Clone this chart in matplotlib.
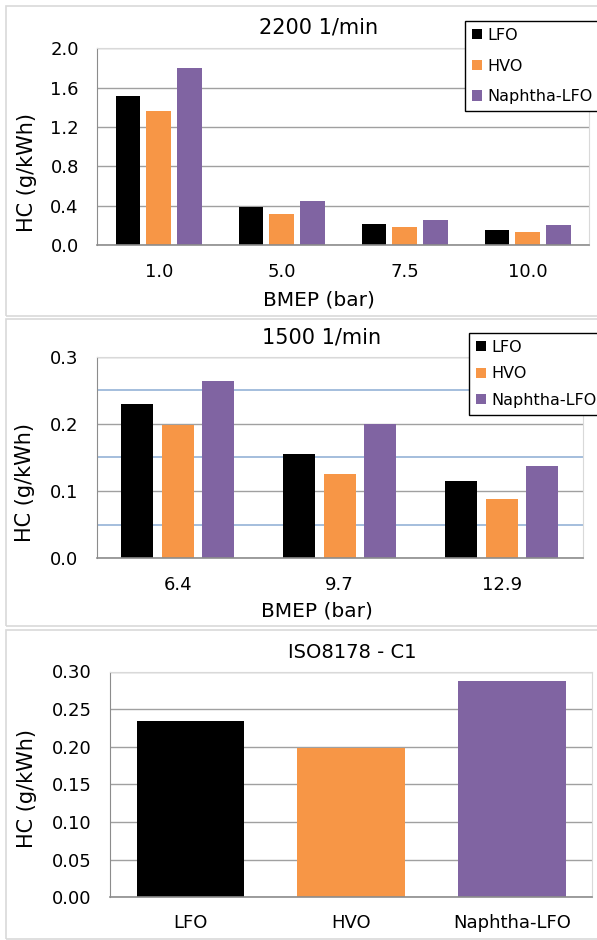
import matplotlib
matplotlib.use("Agg")
import matplotlib.pyplot as plt
from matplotlib.patches import Patch, Rectangle
import numpy as np

# ---------------- data ----------------
fuels = ["LFO", "HVO", "Naphtha-LFO"]
colors = ["#000000", "#F79646", "#8064A2"]

bmep_2200 = ["1.0", "5.0", "7.5", "10.0"]
lfo_2200 = [1.515, 0.383, 0.21, 0.149]
hvo_2200 = [1.362, 0.319, 0.183, 0.136]
nap_2200 = [1.80, 0.451, 0.254, 0.200]

bmep_1500 = ["6.4", "9.7", "12.9"]
lfo_1500 = [0.230, 0.155, 0.115]
hvo_1500 = [0.198, 0.126, 0.088]
nap_1500 = [0.264, 0.200, 0.137]

iso_values = [0.234, 0.198, 0.287]

yt_2200 = [0.0, 0.4, 0.8, 1.2, 1.6, 2.0]
yt_1500 = [0.0, 0.1, 0.2, 0.3]
yt_1500_minor = [0.05, 0.15, 0.25]
yt_iso = [0.00, 0.05, 0.10, 0.15, 0.20, 0.25, 0.30]

# ---------------- figure ----------------
W, H = 597, 940
fig = plt.figure(figsize=(W / 100, H / 100), dpi=100)
plt.rcParams["font.family"] = ["DejaVu Sans"]

def fx(px):
    return px / W

def fy(py):
    return 1 - py / H

def axes_px(l, t, r, b):
    return fig.add_axes([fx(l), fy(b), (r - l) / W, (b - t) / H])

# panel frames
for (t, b) in [(6, 316), (319, 626), (630, 939)]:
    fig.patches.append(Rectangle((fx(6), fy(b)), fx(700), (b - t) / H,
                                 transform=fig.transFigure, fill=False,
                                 edgecolor="#D9D9D9", linewidth=1.2, zorder=0))

TICK = 13
LAB = 15
TIT = 15
LEG = 11.5
GRID = "#A0A0A0"
SPINE = "#8C8C8C"
LIGHT = "#D9D9D9"

def style(ax):
    ax.set_axisbelow(True)
    ax.yaxis.grid(True, color=GRID, linewidth=1.0)
    ax.tick_params(length=0, labelsize=TICK)
    ax.tick_params(axis="y", pad=13.3)
    ax.tick_params(axis="x", pad=12.7)
    ax.spines["left"].set_color(SPINE)
    ax.spines["bottom"].set_color(SPINE)
    ax.spines["bottom"].set_linewidth(1.2)
    ax.spines["top"].set_color(LIGHT)
    ax.spines["right"].set_color(LIGHT)

def grouped(ax, cats, series):
    x = np.arange(len(cats))
    for i, (vals, c) in enumerate(zip(series, colors)):
        ax.bar(x + (i - 1) * 0.25, vals, width=0.2, color=c, edgecolor="none", zorder=2)
    ax.set_xticks(x)
    ax.set_xticklabels(cats)
    ax.set_xlim(-0.5, len(cats) - 0.5)

def legend(x, y, spacing):
    handles = [Patch(facecolor=c, edgecolor="none") for c in colors]
    lg = fig.legend(handles, fuels, loc="upper left",
                    bbox_to_anchor=(fx(x), fy(y)), bbox_transform=fig.transFigure,
                    borderaxespad=0, fontsize=LEG, frameon=True, fancybox=False,
                    edgecolor="black", framealpha=1, handlelength=0.6,
                    handleheight=0.6, handletextpad=0.35, labelspacing=spacing,
                    borderpad=0.45)
    lg.get_frame().set_linewidth(1.0)
    return lg

# ---------- panel 1 ----------
ax1 = axes_px(97.3, 48.3, 589, 245)
style(ax1)
grouped(ax1, bmep_2200, [lfo_2200, hvo_2200, nap_2200])
ax1.set_ylim(0, 2.0)
ax1.set_yticks(yt_2200)
ax1.set_yticklabels([f"{v:.1f}" for v in yt_2200])
fig.text(fx(319), fy(33.3), "2200 1/min", ha="center", va="baseline", fontsize=TIT)
fig.text(fx(318.6), fy(305), "BMEP (bar)", ha="center", va="baseline", fontsize=LAB - 0.5)
fig.text(fx(26.7), fy(173), "HC (g/kWh)", ha="center", va="center", rotation=90, fontsize=LAB)
legend(465.3, 20.7, 0.98)

# ---------- panel 2 ----------
ax2 = axes_px(96.7, 356.5, 582.7, 558.3)
style(ax2)
for v in yt_1500_minor:
    ax2.axhline(v, color="#95B3D7", linewidth=1.2, zorder=1)
grouped(ax2, bmep_1500, [lfo_1500, hvo_1500, nap_1500])
ax2.set_ylim(0, 0.3)
ax2.set_yticks(yt_1500)
ax2.set_yticklabels([f"{v:.1f}" for v in yt_1500])
fig.text(fx(322), fy(343.3), "1500 1/min", ha="center", va="baseline", fontsize=TIT)
fig.text(fx(317), fy(616.7), "BMEP (bar)", ha="center", va="baseline", fontsize=LAB - 0.5)
fig.text(fx(25), fy(482.5), "HC (g/kWh)", ha="center", va="center", rotation=90, fontsize=LAB)
legend(469.3, 332.7, 0.72)

# ---------- panel 3 ----------
ax3 = axes_px(110, 671.5, 592.3, 897.3)
style(ax3)
x3 = np.arange(len(fuels))
ax3.bar(x3, iso_values, width=0.67, color=colors, edgecolor="none", zorder=2)
ax3.set_xticks(x3)
ax3.set_xticklabels(fuels)
ax3.set_xlim(-0.5, 2.5)
ax3.set_ylim(0, 0.30)
ax3.set_yticks(yt_iso)
ax3.set_yticklabels([f"{v:.2f}" for v in yt_iso])
ax3.tick_params(axis="x", pad=12.2)
fig.text(fx(352), fy(658.3), "ISO8178 - C1", ha="center", va="baseline", fontsize=TIT - 1)
fig.text(fx(26.7), fy(788.3), "HC (g/kWh)", ha="center", va="center", rotation=90, fontsize=LAB)

fig.savefig("out.png", dpi=100)
